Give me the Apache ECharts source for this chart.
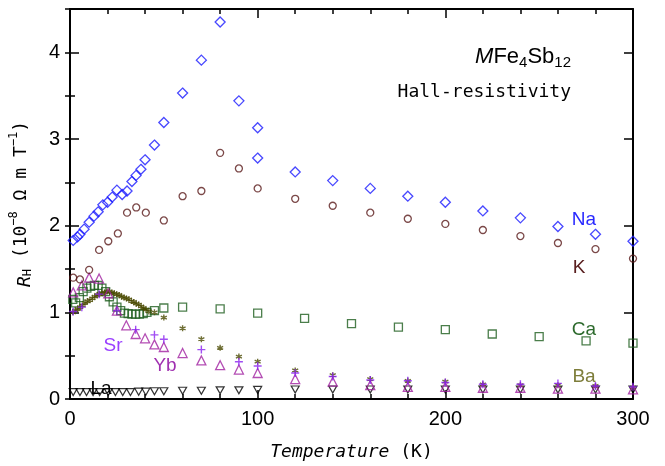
<!DOCTYPE html>
<html>
<head>
<meta charset="utf-8">
<script src="https://cdn.jsdelivr.net/npm/echarts@6/dist/echarts.min.js"></script>
<style>
  html, body { margin: 0; padding: 0; background: #fff; }
  #chart { width: 665px; height: 466px; }
</style>
</head>
<body>
<div id="chart"></div>
<script>
// Hall coefficient R_H (10^-8 Ω m T^-1) versus temperature (K) for MFe4Sb12 filled skutterudites
const naData = [[1.7,1.83],[4,1.87],[5.3,1.90],[7.5,1.96],[10.2,2.04],[12.8,2.11],[15,2.16],[17.5,2.24],[20,2.27],[22.5,2.33],[25,2.41],[27.8,2.36],[30.4,2.40],[33,2.51],[35.2,2.58],[37.8,2.65],[40,2.76],[45,2.93],[50,3.19],[60,3.53],[70,3.91],[80,4.35],[90,3.44],[100,3.13],[100,2.78],[120,2.62],[140,2.52],[160,2.43],[180,2.34],[200,2.27],[220,2.17],[240,2.09],[260,1.99],[280,1.90],[300,1.82]];
const kData = [[1.7,1.40],[5.3,1.38],[10.2,1.49],[15.5,1.72],[20.4,1.82],[25.5,1.91],[30.4,2.15],[35.3,2.21],[40.4,2.15],[50,2.06],[60,2.34],[70,2.40],[80,2.84],[90,2.66],[100,2.43],[120,2.31],[140,2.23],[160,2.15],[180,2.08],[200,2.02],[220,1.95],[240,1.88],[260,1.80],[280,1.73],[300,1.62]];
const caData = [[1.5,1.15],[3,1.11],[5,1.17],[7,1.24],[9,1.28],[11,1.30],[13,1.31],[15,1.31],[17,1.28],[19,1.24],[21,1.18],[23,1.12],[25,1.06],[27,1.02],[29,0.99],[31,0.985],[33,0.98],[35,0.98],[37,0.98],[39,0.985],[41,1.00],[45,1.02],[50,1.05],[60,1.06],[80,1.04],[100,0.99],[125,0.93],[150,0.87],[175,0.83],[200,0.80],[225,0.75],[250,0.72],[275,0.67],[300,0.645]];
const baData = [[1.5,1.00],[2.8,1.02],[4.1,1.04],[5.4,1.06],[6.7,1.08],[8,1.11],[9.3,1.13],[10.6,1.14],[11.9,1.16],[13.2,1.18],[14.5,1.20],[15.8,1.21],[17.1,1.22],[18.4,1.23],[19.7,1.24],[21,1.24],[22.3,1.23],[23.6,1.22],[24.9,1.21],[26.2,1.20],[27.5,1.18],[28.8,1.17],[30.1,1.16],[31.4,1.15],[32.7,1.13],[34,1.12],[35.3,1.10],[36.6,1.09],[37.9,1.07],[39.2,1.05],[40.5,1.03],[42,1.01],[45,1.00],[50,0.94],[60,0.815],[70,0.69],[80,0.59],[90,0.49],[100,0.43],[120,0.33],[140,0.275],[160,0.23],[180,0.21],[200,0.20],[220,0.17],[240,0.16],[260,0.16],[280,0.15],[300,0.13]];
const srData = [[1.7,1.01],[6.3,1.06],[15.5,1.21],[25,1.02],[35,0.80],[45,0.74],[50,0.69],[70,0.57],[90,0.43],[100,0.38],[120,0.30],[140,0.26],[160,0.22],[180,0.21],[200,0.19],[220,0.17],[240,0.17],[260,0.18],[280,0.15],[300,0.14]];
const ybData = [[1.7,1.23],[6.3,1.31],[10.2,1.40],[15.5,1.39],[20.4,1.22],[25,1.02],[30,0.85],[35,0.75],[40,0.70],[45,0.63],[50,0.60],[60,0.53],[70,0.445],[80,0.39],[90,0.34],[100,0.30],[120,0.23],[140,0.20],[160,0.16],[180,0.14],[200,0.14],[220,0.13],[240,0.13],[260,0.12],[280,0.12],[300,0.11]];
const laData = [[1.7,0.08],[5.3,0.08],[8.8,0.08],[12.3,0.08],[15.8,0.08],[20.4,0.08],[24.2,0.08],[28.1,0.08],[32.2,0.08],[36.6,0.085],[40.4,0.085],[45,0.09],[50,0.09],[60,0.095],[70,0.095],[80,0.10],[90,0.10],[100,0.105],[120,0.11],[140,0.11],[160,0.11],[180,0.11],[200,0.11],[220,0.11],[240,0.11],[260,0.11],[280,0.11],[300,0.11]];

const xRange = [0, 300];
const yRange = [0, 4.5];

const SANS = '"Liberation Sans", Arial, sans-serif';
const MONO = '"DejaVu Sans Mono", monospace';

const chart = echarts.init(document.getElementById('chart'), null, { renderer: 'canvas' });

const frameLine = { show: true, onZero: false, lineStyle: { color: '#000', width: 2 } };

function xAxis(position, withLabels) {
  return {
    type: 'value', position, min: xRange[0], max: xRange[1], interval: 100,
    axisLine: frameLine,
    axisTick: { show: true, inside: true, length: 9, lineStyle: { color: '#000', width: 1.5 } },
    minorTick: { show: true, splitNumber: 5, length: 5, lineStyle: { color: '#000', width: 1.5 } },
    splitLine: { show: false }, minorSplitLine: { show: false },
    axisLabel: withLabels ? { show: true, fontFamily: SANS, fontSize: 20, color: '#000', margin: 10 } : { show: false },
    name: withLabels ? '{it|Temperature} (K)' : '',
    nameLocation: 'middle', nameGap: 44,
    nameTextStyle: { fontFamily: MONO, fontSize: 18, color: '#000',
      rich: { it: { fontFamily: MONO, fontSize: 18, fontStyle: 'italic', color: '#000' } } }
  };
}

function yAxis(position, step, tickLen, withLabels, withLine) {
  return {
    type: 'value', position, min: yRange[0], max: yRange[1], interval: step,
    axisLine: withLine ? frameLine : { show: false },
    axisTick: { show: true, inside: true, length: tickLen, lineStyle: { color: '#000', width: 1.5 } },
    splitLine: { show: false },
    axisLabel: withLabels ? {
      show: true, fontFamily: SANS, fontSize: 20, color: '#000', margin: 10,
      formatter: v => (Number.isInteger(v) ? String(v) : '')
    } : { show: false },
    name: withLabels ? '{it|R}{sub|H} (10{sup|−8} Ω m T{sup|−1})' : '',
    nameLocation: 'middle', nameGap: 36, nameRotate: 90,
    nameTextStyle: {
      fontFamily: MONO, fontSize: 18, color: '#000',
      rich: {
        it: { fontFamily: MONO, fontSize: 18, fontStyle: 'italic', lineHeight: 26, verticalAlign: 'bottom' },
        sub: { fontFamily: MONO, fontSize: 12, lineHeight: 12, verticalAlign: 'bottom' },
        sup: { fontFamily: MONO, fontSize: 12, lineHeight: 12, verticalAlign: 'top' }
      }
    }
  };
}

const openStyle = (c, w) => ({ color: 'rgba(0,0,0,0)', borderColor: c, borderWidth: w || 1.3 });

const crossPath = 'path://M5,0L5,10M0,5L10,5';
const starPath = 'path://M5,0L5,10M0.67,2.5L9.33,7.5M0.67,7.5L9.33,2.5';
const downTri = 'path://M0,0L10,0L5,8.66Z';

function scatter(name, data, symbol, size, style) {
  return { name, type: 'scatter', data, symbol, symbolSize: size, itemStyle: style,
           xAxisIndex: 0, yAxisIndex: 0, silent: true, animation: false };
}

const labels = [
  { text: 'Na', x: 584, y: 220, color: '#2a2aff' },
  { text: 'K',  x: 579, y: 268, color: '#5a2020' },
  { text: 'Ca', x: 584, y: 330, color: '#2d6a2d' },
  { text: 'Ba', x: 584, y: 377, color: '#7d7d3a' },
  { text: 'Sr', x: 113, y: 346, color: '#9a40ff' },
  { text: 'Yb', x: 165, y: 366, color: '#a030b0' },
  { text: 'La', x: 101, y: 389, color: '#000' }
];

chart.setOption({
  backgroundColor: '#fff',
  animation: false,
  grid: { left: 65, right: 32, top: 9, bottom: 59, containLabel: false },
  xAxis: [xAxis('bottom', true), xAxis('top', false)],
  yAxis: [
    yAxis('left', 1, 9, true, true),
    yAxis('left', 0.5, 5, false, false),
    yAxis('right', 1, 9, false, true),
    yAxis('right', 0.5, 5, false, false)
  ],
  series: [
    scatter('La', laData, downTri, [8, 7], openStyle('#000', 1.2)),
    scatter('Ca', caData, 'rect', 8, openStyle('#1e5e1e', 1.3)),
    scatter('Ba', baData, starPath, 6, { color: 'rgba(0,0,0,0)', borderColor: '#4a4a00', borderWidth: 1.4 }),
    scatter('Yb', ybData, 'triangle', 9, openStyle('#a020a0', 1.3)),
    scatter('Sr', srData, crossPath, 8, { color: 'rgba(0,0,0,0)', borderColor: '#8a20f0', borderWidth: 1.4 }),
    scatter('K', kData, 'circle', 7, openStyle('#5a1a1a', 1.3)),
    scatter('Na', naData, 'diamond', 10, openStyle('#1a1aff', 1.3))
  ],
  graphic: [
    ...labels.map(l => ({
      type: 'text', x: l.x, y: l.y, silent: true,
      style: { text: l.text, fill: l.color, font: '19px ' + SANS, align: 'center', verticalAlign: 'middle' }
    })),
    {
      type: 'text', x: 571, y: 58, silent: true,
      style: {
        text: '{it|M}{n|Fe}{s|4}{n|Sb}{s|12}',
        align: 'right', verticalAlign: 'middle',
        rich: {
          it: { fontFamily: SANS, fontSize: 22, fontStyle: 'italic', fill: '#000', lineHeight: 25, verticalAlign: 'top' },
          n: { fontFamily: SANS, fontSize: 22, fill: '#000', lineHeight: 25, verticalAlign: 'top' },
          s: { fontFamily: SANS, fontSize: 15, fill: '#000', lineHeight: 15, verticalAlign: 'bottom' }
        }
      }
    },
    {
      type: 'text', x: 571, y: 92, silent: true,
      style: { text: 'Hall-resistivity', fill: '#000', font: '18px ' + MONO, align: 'right', verticalAlign: 'middle' }
    }
  ]
});
</script>
</body>
</html>
